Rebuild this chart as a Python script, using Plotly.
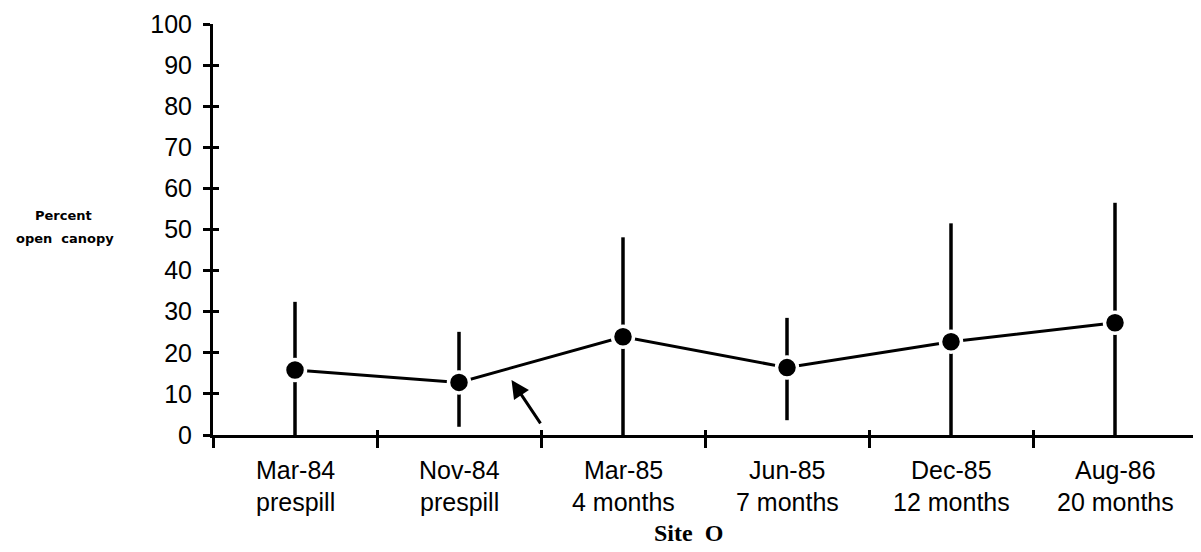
import plotly.graph_objects as go

dates = ["Mar-84", "Nov-84", "Mar-85", "Jun-85", "Dec-85", "Aug-86"]
phases = ["prespill", "prespill", "4 months", "7 months", "12 months", "20 months"]
means = [15.8, 12.8, 23.9, 16.4, 22.7, 27.3]
upper = [32.4, 25.1, 48.1, 28.5, 51.5, 56.5]
lower = [0.0, 2.0, 0.0, 3.6, 0.0, 0.0]
y_ticks = list(range(0, 101, 10))

xpos = [i + 0.5 for i in range(len(dates))]
boundaries = list(range(0, len(dates) + 1))

fig = go.Figure()

# error bars (no caps)
fig.add_trace(go.Scatter(
    x=xpos, y=means, mode="lines",
    line=dict(color="black", width=3),
    error_y=dict(type="data", symmetric=False,
                 array=[u - m for u, m in zip(upper, means)],
                 arrayminus=[m - l for m, l in zip(means, lower)],
                 width=0, thickness=3.5, color="black"),
    showlegend=False, hoverinfo="skip"))

# markers with white halo
fig.add_trace(go.Scatter(
    x=xpos, y=means, mode="markers",
    marker=dict(size=21, color="black", line=dict(color="white", width=3.5)),
    showlegend=False))

lab_font = dict(family="Liberation Sans, Arial, sans-serif", size=25, color="black")
cat_font = dict(family="Liberation Sans, Arial, sans-serif", size=25, color="black")

annotations = []
for x, d, p in zip(xpos, dates, phases):
    annotations.append(dict(x=x, y=0, xref="x", yref="y", text=d, showarrow=False,
                            yshift=-35, font=cat_font))
    annotations.append(dict(x=x, y=0, xref="x", yref="y", text=p, showarrow=False,
                            yshift=-67, font=cat_font))

annotations.append(dict(x=0.483, y=0, xref="paper", yref="y", text="<b>Site  O</b>",
                        showarrow=False, yshift=-98,
                        font=dict(family="Liberation Serif, Times New Roman, serif", size=24, color="black")))
annotations.append(dict(x=-0.152, y=0.533, xref="paper", yref="paper", xanchor="center",
                        text="<b>Percent</b>", showarrow=False,
                        font=dict(family="DejaVu Sans, sans-serif", size=13, color="black")))
annotations.append(dict(x=-0.150, y=0.477, xref="paper", yref="paper", xanchor="center",
                        text="<b>open  canopy</b>", showarrow=False,
                        font=dict(family="DejaVu Sans, sans-serif", size=13, color="black")))
# arrow pointing to the spill interval
annotations.append(dict(x=1.82, y=13.4, xref="x", yref="y", ax=30, ay=45,
                        showarrow=True, arrowhead=2, arrowsize=1.2, arrowwidth=3,
                        arrowcolor="black", text=""))

fig.update_layout(
    width=1201, height=552,
    margin=dict(l=205, r=12, t=16, b=125),
    paper_bgcolor="white", plot_bgcolor="white",
    xaxis=dict(range=[0, 6], tickvals=boundaries, showticklabels=False, automargin=False,
               ticks="outside", ticklen=10, tickwidth=2.5, tickcolor="black",
               showline=True, linewidth=3, linecolor="black", showgrid=False, zeroline=False),
    xaxis2=dict(range=[0, 6], tickvals=boundaries, showticklabels=False, overlaying="x",
                ticks="inside", ticklen=5, tickwidth=2.5, tickcolor="black", automargin=False,
                showline=False, showgrid=False, zeroline=False, anchor="y"),
    yaxis=dict(range=[0, 100], tickvals=y_ticks, ticks="outside", ticklen=7, tickwidth=2.5,
               tickcolor="black", showline=True, linewidth=3, linecolor="black", automargin=False,
               showgrid=False, zeroline=False, tickfont=lab_font, ticklabelstandoff=6),
    yaxis2=dict(range=[0, 100], tickvals=y_ticks, overlaying="y", ticks="inside", ticklen=6,
                tickwidth=2.5, tickcolor="black", showticklabels=False, showline=False,
                automargin=False, showgrid=False, zeroline=False, anchor="x"),
    annotations=annotations,
)

# invisible trace to activate the overlay axes
fig.add_trace(go.Scatter(x=[None], y=[None], xaxis="x2", yaxis="y2", showlegend=False, hoverinfo="skip"))

fig.write_html("out.html")
